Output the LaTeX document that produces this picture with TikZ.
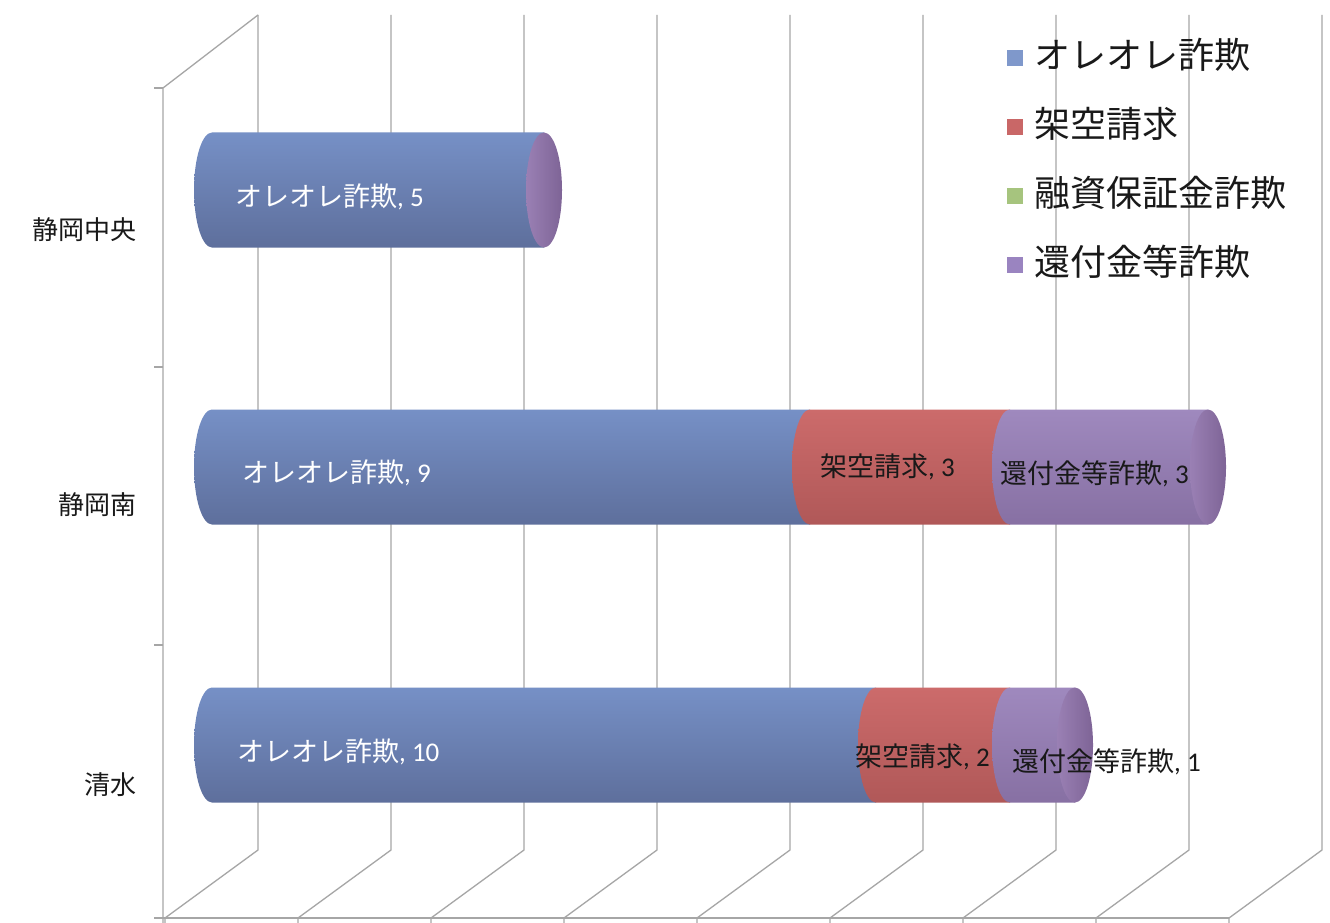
\documentclass[tikz,border=0pt]{standalone}
\usepackage{fontspec}
\newfontfamily\jp{Noto Sans CJK JP}
\newfontfamily\numf{Carlito}
\definecolor{gridc}{HTML}{A6A6A6}
\definecolor{bT}{HTML}{7690C6}\definecolor{bM}{HTML}{8AA5DA}\definecolor{bB}{HTML}{5E6F9C}
\definecolor{rT}{HTML}{CC6B6B}\definecolor{rM}{HTML}{DC8383}\definecolor{rB}{HTML}{B05858}
\definecolor{pT}{HTML}{9F89BE}\definecolor{pM}{HTML}{B5A0D2}\definecolor{pB}{HTML}{8770A3}
\definecolor{capL}{HTML}{9A80B4}\definecolor{capR}{HTML}{7E6496}
\definecolor{legB}{HTML}{7F98CB}\definecolor{legR}{HTML}{C96767}\definecolor{legG}{HTML}{A6C47E}\definecolor{legP}{HTML}{9A84C0}
\newcommand\seg[6]{\shade[top color=#4, middle color=#5, bottom color=#6] (#2,#1-57.5) -- (#3,#1-57.5) -- (#3,#1+57.5) -- (#2,#1+57.5) arc[start angle=270,end angle=90,x radius=18pt,y radius=57.5pt] -- cycle;}
\newcommand\capend[2]{\shade[left color=capL, right color=capR] (#2,#1) ellipse [x radius=18pt, y radius=57.5pt];}
\tikzset{
  grid/.style={draw=gridc, line width=1.3pt},
  barlab/.style={inner sep=0pt, anchor=west, font=\fontsize{27}{30}\selectfont\jp},
  catlab/.style={inner sep=0pt, anchor=east, font=\fontsize{26}{30}\selectfont\jp, text=black!90},
  leglab/.style={inner sep=0pt, anchor=west, font=\fontsize{36}{40}\selectfont\jp, text=black!90},
  legsq/.style={minimum size=16pt, inner sep=0pt}
}
\begin{document}
\begin{tikzpicture}[x=1pt,y=-1pt]
\useasboundingbox[fill=white] (0,0) rectangle (1330,923);
% grid
\foreach \i [evaluate=\i as \xb using 258+133*\i, evaluate=\i as \xf using 165+133*\i] in {0,...,8} {
  \draw[grid] (\xb,15) -- (\xb,850) -- (\xf,918) -- (\xf,923);
}
\draw[grid] (163,918) -- (1229,918);
\draw[grid] (163,923) -- (163,88) -- (258,15);
\foreach \y in {88,367,645,918} { \draw[grid] (154,\y) -- (163,\y); }
% bars
\seg{190}{212}{544}{bT}{bM}{bB}
\capend{190}{544}
\seg{467}{212}{810}{bT}{bM}{bB}
\seg{467}{810}{1010}{rT}{rM}{rB}
\seg{467}{1010}{1208}{pT}{pM}{pB}
\capend{467}{1208}
\seg{745}{212}{876}{bT}{bM}{bB}
\seg{745}{876}{1010}{rT}{rM}{rB}
\seg{745}{1010}{1075}{pT}{pM}{pB}
\capend{745}{1075}
% bar labels
\node[barlab, text=white] (l1) at (235,197) {オレオレ詐欺{\numf, 5}};
\node[barlab, text=white] (l2) at (242,473) {オレオレ詐欺{\numf, 9}};
\node[barlab, text=black!90] (l3) at (820,467) {架空請求{\numf, 3}};
\node[barlab, text=black!90] (l4) at (1000,474) {還付金等詐欺{\numf, 3}};
\node[barlab, text=white] (l5) at (237,752) {オレオレ詐欺{\numf, 10}};
\node[barlab, text=black!90] (l6) at (855,757) {架空請求{\numf, 2}};
\node[barlab, text=black!90] (l7) at (1012,762) {還付金等詐欺{\numf, 1}};
% categories
\node[catlab] (c1) at (137,230) {静岡中央};
\node[catlab] (c2) at (137,505) {静岡南};
\node[catlab] (c3) at (137,785) {清水};
% legend
\node[legsq, fill=legB] (s1) at (1015,58) {};
\node[legsq, fill=legR] (s2) at (1015,127) {};
\node[legsq, fill=legG] (s3) at (1015,196) {};
\node[legsq, fill=legP] (s4) at (1015,265) {};
\node[leglab] (t1) at (1034,55) {オレオレ詐欺};
\node[leglab] (t2) at (1034,124) {架空請求};
\node[leglab] (t3) at (1034,193) {融資保証金詐欺};
\node[leglab] (t4) at (1034,262) {還付金等詐欺};
\end{tikzpicture}
\end{document}
